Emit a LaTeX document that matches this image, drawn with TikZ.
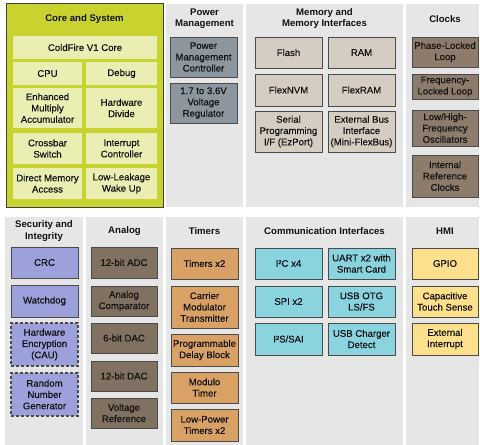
\documentclass[tikz,border=0pt]{standalone}
\usepackage{fontspec}
\setmainfont{Liberation Sans}
\newfontfamily\boxfont[FakeBold=0.35]{Liberation Sans}
\definecolor{pnl}{RGB}{230,230,230}
\definecolor{coref}{RGB}{200,211,48}
\definecolor{corein}{RGB}{234,238,178}
\definecolor{powf}{RGB}{139,150,158}
\definecolor{memf}{RGB}{213,205,193}
\definecolor{clkf}{RGB}{141,124,108}
\definecolor{secf}{RGB}{156,160,219}
\definecolor{anaf}{RGB}{128,113,97}
\definecolor{timf}{RGB}{218,161,101}
\definecolor{comf}{RGB}{137,212,223}
\definecolor{hmif}{RGB}{253,224,139}
\definecolor{bord}{RGB}{75,75,75}
\definecolor{txt}{RGB}{17,17,17}
\begin{document}
\begin{tikzpicture}[x=1pt,y=-1pt,
  every node/.style={font=\boxfont\fontsize{9.6}{11.3}\selectfont, text=txt, inner sep=0pt, align=center},
  panel/.style={fill=pnl, draw=none},
  ttl/.style={font=\rmfamily\fontsize{9.6}{11.3}\selectfont\bfseries},
  blk/.style={draw=bord, line width=1pt},
  dsh/.style={line width=1.3pt, dash pattern=on 3pt off 2pt},
  corebox/.style={fill=corein, draw=none, minimum height=23pt},
  powbox/.style={blk, fill=powf, minimum width=67pt, minimum height=40pt},
  membox/.style={blk, fill=memf, minimum width=67pt},
  clkbox/.style={blk, fill=clkf, minimum width=66pt},
  secbox/.style={blk, fill=secf, minimum width=67pt},
  anabox/.style={blk, fill=anaf, minimum width=66pt, minimum height=30pt},
  timbox/.style={blk, fill=timf, minimum width=67pt},
  combox/.style={blk, fill=comf, minimum width=67pt},
  hmibox/.style={blk, fill=hmif, minimum width=66pt},
]
\fill[white] (0,0) rectangle (480,445);
\useasboundingbox (0,0) rectangle (480,445);
% top row panels
\node[fill=coref, draw=black!75, line width=0.9pt, minimum width=157pt, minimum height=204pt] (core) at (84.5,105) {};
\node[panel, minimum width=77pt, minimum height=203pt] (pow) at (204.5,105.5) {};
\node[panel, minimum width=157pt, minimum height=203pt] (mem) at (324.5,105.5) {};
\node[panel, minimum width=73pt, minimum height=203pt] (clk) at (442.5,105.5) {};
% bottom row panels
\node[panel, minimum width=78pt, minimum height=228pt] (sec) at (44,331) {};
\node[panel, minimum width=77pt, minimum height=228pt] (ana) at (124.5,331) {};
\node[panel, minimum width=77pt, minimum height=228pt] (tim) at (204.5,331) {};
\node[panel, minimum width=157pt, minimum height=228pt] (com) at (324.5,331) {};
\node[panel, minimum width=73pt, minimum height=228pt] (hmi) at (442.5,331) {};
% titles
\node[ttl] (tcore) at (84.5,19) {Core and System};
\node[ttl] (tpow) at (204.5,18.7) {Power\\Management};
\node[ttl] (tmem) at (324.5,18.7) {Memory and\\Memory Interfaces};
\node[ttl] (tclk) at (445,19) {Clocks};
\node[ttl] (tsec) at (44,231) {Security and\\Integrity};
\node[ttl] (tana) at (124.5,231) {Analog};
\node[ttl] (ttim) at (204.5,231) {Timers};
\node[ttl] (tcom) at (324.5,231) {Communication Interfaces};
\node[ttl] (thmi) at (445,231) {HMI};
% core
\node[corebox, minimum width=144pt] (cold) at (85,47.5) {ColdFire V1 Core};
\node[corebox, minimum width=69pt] (cpu) at (47.5,73.5) {CPU};
\node[corebox, minimum width=71pt] (dbg) at (121.5,73.5) {Debug};
\node[corebox, minimum width=69pt, minimum height=40pt] (ema) at (47.5,108) {Enhanced\\Multiply\\Accumulator};
\node[corebox, minimum width=71pt, minimum height=40pt] (hwd) at (121.5,108) {Hardware\\Divide};
\node[corebox, minimum width=69pt, minimum height=31pt] (xbar) at (47.5,148.5) {Crossbar\\Switch};
\node[corebox, minimum width=71pt, minimum height=31pt] (intc) at (121.5,148.5) {Interrupt\\Controller};
\node[corebox, minimum width=69pt, minimum height=31pt] (dma) at (47.5,183.5) {Direct Memory\\Access};
\node[corebox, minimum width=71pt, minimum height=31pt] (llwu) at (121.5,183.5) {Low-Leakage\\Wake Up};
% power
\node[powbox] (pmc) at (203.5,57) {Power\\Management\\Controller};
\node[powbox] (vreg) at (203.5,103) {1.7 to 3.6V\\Voltage\\Regulator};
% memory
\node[membox, minimum height=31pt] (flash) at (288.5,52.5) {Flash};
\node[membox, minimum height=31pt] (ram) at (361.5,52.5) {RAM};
\node[membox, minimum height=32pt] (fnvm) at (288.5,90) {FlexNVM};
\node[membox, minimum height=32pt] (fram) at (361.5,90) {FlexRAM};
\node[membox, minimum height=41pt] (ezp) at (288.5,131.5) {Serial\\Programming\\I/F (EzPort)};
\node[membox, minimum height=41pt] (fbus) at (361.5,131.5) {External Bus\\Interface\\(Mini-FlexBus)};
% clocks
\node[clkbox, minimum height=30pt] (pll) at (445,52) {Phase-Locked\\Loop};
\node[clkbox, minimum height=25pt] (fll) at (445,86.5) {Frequency-\\Locked Loop};
\node[clkbox, minimum height=36pt] (osc) at (445,128) {Low/High-\\Frequency\\Oscillators};
\node[clkbox, minimum height=42pt] (irc) at (445,176) {Internal\\Reference\\Clocks};
% security
\node[secbox, minimum height=31pt] (crc) at (44.5,262.5) {CRC};
\node[secbox, minimum height=32pt] (wdog) at (44.5,301) {Watchdog};
\node[secbox, dsh, minimum height=43pt] (cau) at (44.5,344.5) {Hardware\\Encryption\\(CAU)};
\node[secbox, dsh, minimum height=43pt] (rng) at (44.5,394.5) {Random\\Number\\Generator};
% analog
\node[anabox, minimum height=31pt] (adc) at (124,262.5) {12-bit ADC};
\node[anabox] (acmp) at (124,301) {Analog\\Comparator};
\node[anabox] (dac6) at (124,338) {6-bit DAC};
\node[anabox] (dac12) at (124,376) {12-bit DAC};
\node[anabox] (vref) at (124,413) {Voltage\\Reference};
% timers
\node[timbox, minimum height=31pt] (tmr) at (204.5,263.5) {Timers x2};
\node[timbox, minimum height=42pt] (cmt) at (204.5,307) {Carrier\\Modulator\\Transmitter};
\node[timbox, minimum height=32pt] (pdb) at (204.5,350) {Programmable\\Delay Block};
\node[timbox, minimum height=31pt] (modt) at (204.5,387.5) {Modulo\\Timer};
\node[timbox, minimum height=32pt] (lptmr) at (204.5,425) {Low-Power\\Timers x2};
% communication
\node[combox, minimum height=31pt] (i2c) at (288.5,263.5) {I²C x4};
\node[combox, minimum height=31pt] (uart) at (361.5,263.5) {UART x2 with\\Smart Card};
\node[combox, minimum height=31pt] (spi) at (288.5,301.5) {SPI x2};
\node[combox, minimum height=31pt] (usb) at (361.5,301.5) {USB OTG\\LS/FS};
\node[combox, minimum height=32pt] (i2s) at (288.5,339) {I²S/SAI};
\node[combox, minimum height=32pt] (usbcd) at (361.5,339) {USB Charger\\Detect};
% HMI
\node[hmibox, minimum height=31pt] (gpio) at (445,263.5) {GPIO};
\node[hmibox, minimum height=31pt] (tsi) at (445,301.5) {Capacitive\\Touch Sense};
\node[hmibox, minimum height=32pt] (irq) at (445,339) {External\\Interrupt};
\end{tikzpicture}
\end{document}
